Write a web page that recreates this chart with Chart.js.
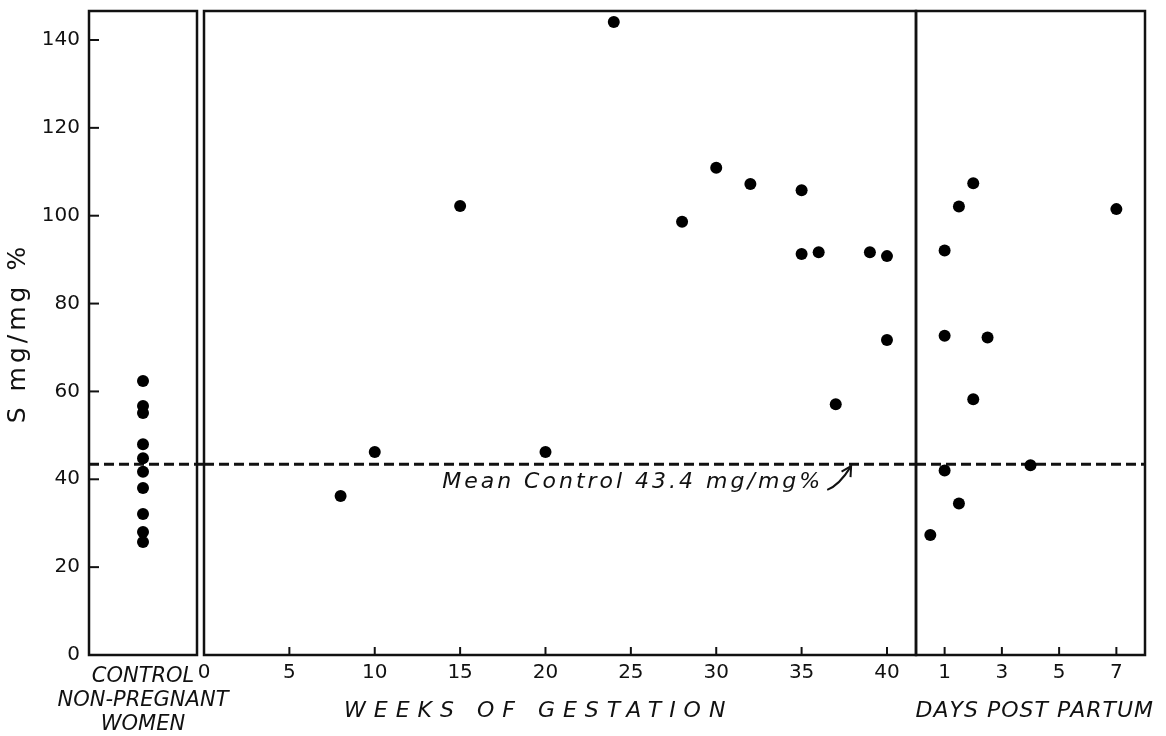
<!DOCTYPE html>
<html>
<head>
<meta charset="utf-8">
<script src="https://cdn.jsdelivr.net/npm/chart.js@4.4.1/dist/chart.umd.min.js"></script>
<style>
  html, body { margin: 0; padding: 0; background: #fff; }
  #wrap { position: relative; width: 1166px; height: 736px; overflow: hidden; }
  canvas { position: absolute; top: 0; }
</style>
</head>
<body>
<div id="wrap">
  <canvas id="control" width="260" height="736" style="left:0"></canvas>
  <canvas id="gestation" width="760" height="736" style="left:180px"></canvas>
  <canvas id="partum" width="266" height="736" style="left:900px"></canvas>
</div>
<script>
// values (S mg/mg %)
var controlLabel = ['CONTROL', 'NON-PREGNANT', 'WOMEN'];
var controlValues = [62.4, 56.7, 55.1, 48.0, 44.8, 41.7, 38.0, 32.1, 28.0, 25.7];

var gestationWeeks = [8, 10, 15, 20, 24, 28, 30, 32, 35, 35, 36, 37, 39, 40, 40];
var gestationValues = [36.2, 46.2, 102.2, 46.2, 144.1, 98.6, 110.9, 107.2, 105.8, 91.3, 91.7, 57.1, 91.7, 90.8, 71.7];

var partumDays = [0.5, 1, 1, 1, 1.5, 1.5, 2, 2, 2.5, 4, 7];
var partumValues = [27.3, 92.1, 72.7, 42.0, 102.1, 34.5, 107.4, 58.2, 72.3, 43.2, 101.5];

var meanControl = 43.4;
var yTicksStep = 20;
var weekTicksStep = 5;
var dayTicks = [1, 3, 5, 7];

var yTop = 146.6, weeksMax = 41.7, daysMax = 8;
var ink = '#111';
var axisBand = 81;

Chart.defaults.font.family = "'DejaVu Sans', 'Liberation Sans', sans-serif";
Chart.defaults.color = ink;

// chart.js pads the area for overflowing tick labels; the figure doesn't
function fixBand(size, key) {
  return function (s) {
    s[key] = size;
    s.paddingTop = s.paddingBottom = s.paddingLeft = s.paddingRight = 0;
  };
}

// frame, inward ticks, dashed mean line and hand lettering
var panel = {
  id: 'panel',
  beforeDatasetsDraw: function (chart, args, opts) {
    var ctx = chart.ctx, a = chart.chartArea;
    var yy = chart.scales.y.getPixelForValue(meanControl);
    ctx.save();
    ctx.strokeStyle = ink;
    ctx.lineWidth = 3;
    ctx.setLineDash([10, 5]);
    ctx.beginPath();
    ctx.moveTo(a.left, yy);
    ctx.lineTo(a.right + (opts.extend || 0), yy);
    ctx.stroke();
    ctx.restore();
  },
  afterDraw: function (chart, args, opts) {
    var ctx = chart.ctx, a = chart.chartArea;
    ctx.save();
    ctx.strokeStyle = ink;
    ctx.lineWidth = 2.5;
    ctx.strokeRect(a.left, a.top, a.right - a.left, a.bottom - a.top);

    ctx.lineWidth = 2;
    if (opts.xTick) {
      chart.scales.x.ticks.forEach(function (t) {
        var px = chart.scales.x.getPixelForValue(t.value);
        ctx.beginPath(); ctx.moveTo(px, a.bottom); ctx.lineTo(px, a.bottom - opts.xTick); ctx.stroke();
      });
    }
    if (opts.yTick) {
      chart.scales.y.ticks.forEach(function (t) {
        var py = chart.scales.y.getPixelForValue(t.value);
        ctx.beginPath(); ctx.moveTo(a.left, py); ctx.lineTo(a.left + opts.yTick, py); ctx.stroke();
      });
    }

    ctx.fillStyle = ink;
    ctx.textBaseline = 'middle';
    (opts.texts || []).forEach(function (t) {
      var p = t.pos(chart);
      ctx.save();
      ctx.font = t.font;
      ctx.letterSpacing = (t.spacing || 0) + 'px';
      ctx.textAlign = t.align || 'left';
      ctx.translate(p[0], p[1]);
      if (t.rotate) ctx.rotate(t.rotate);
      ctx.fillText(t.text, 0, 0);
      ctx.restore();
    });
    if (opts.arrow) {
      var s = opts.arrow(chart);
      ctx.lineWidth = 2;
      ctx.beginPath();
      ctx.moveTo(s[0][0], s[0][1]);
      ctx.quadraticCurveTo(s[1][0], s[1][1], s[2][0], s[2][1]);
      ctx.stroke();
      var ang = Math.atan2(s[2][1] - s[1][1], s[2][0] - s[1][0]);
      ctx.beginPath();
      ctx.moveTo(s[2][0] - 11 * Math.cos(ang - 0.5), s[2][1] - 11 * Math.sin(ang - 0.5));
      ctx.lineTo(s[2][0], s[2][1]);
      ctx.lineTo(s[2][0] - 11 * Math.cos(ang + 0.5), s[2][1] - 11 * Math.sin(ang + 0.5));
      ctx.stroke();
    }
    ctx.restore();
  }
};

var dots = { backgroundColor: '#000', borderWidth: 0, pointRadius: 6, pointHoverRadius: 6 };
var noGrid = { display: false, drawTicks: false };

function hiddenY() {
  return { display: false, min: 0, max: yTop };
}

var base = {
  responsive: false,
  devicePixelRatio: 1,
  animation: false,
  events: [],
  plugins: { legend: { display: false }, tooltip: { enabled: false } }
};

new Chart(document.getElementById('control'), {
  type: 'scatter',
  data: {
    labels: [controlLabel],
    datasets: [Object.assign({ data: controlValues.map(function (v) { return { x: 0, y: v }; }) }, dots)]
  },
  options: Object.assign({}, base, {
    layout: { padding: { top: 11, right: 63, left: 0, bottom: 0 } },
    plugins: Object.assign({}, base.plugins, {
      panel: {
        extend: 7,
        yTick: 10,
        texts: [{
          text: 'S mg/mg %', font: '25px "DejaVu Sans"', spacing: 4, align: 'center',
          rotate: -Math.PI / 2,
          pos: function (c) { return [18, (c.chartArea.top + c.chartArea.bottom) / 2]; }
        }]
      }
    }),
    scales: {
      x: {
        type: 'category', offset: true,
        grid: noGrid,
        border: { display: false },
        ticks: { padding: 10, maxRotation: 0, font: { size: 21, style: 'italic', lineHeight: 1.14 } },
        afterFit: fixBand(axisBand, 'height')
      },
      y: {
        min: 0, max: yTop,
        grid: noGrid,
        border: { display: false },
        ticks: { stepSize: yTicksStep, includeBounds: false, padding: 9, font: { size: 20 } },
        afterFit: fixBand(89, 'width')
      }
    }
  }),
  plugins: [panel]
});

new Chart(document.getElementById('gestation'), {
  type: 'scatter',
  data: {
    datasets: [Object.assign({ data: gestationWeeks.map(function (w, i) { return { x: w, y: gestationValues[i] }; }) }, dots)]
  },
  options: Object.assign({}, base, {
    layout: { padding: { top: 11, right: 24, left: 24, bottom: 0 } },
    plugins: Object.assign({}, base.plugins, {
      panel: {
        xTick: 8,
        texts: [{
          text: 'WEEKS OF GESTATION', font: 'italic 22px "DejaVu Sans"', spacing: 8,
          pos: function (c) { return [c.scales.x.getPixelForValue(8.2), c.chartArea.bottom + 56]; }
        }, {
          text: 'Mean Control 43.4 mg/mg%', font: 'italic 22px "DejaVu Sans"', spacing: 3,
          pos: function (c) { return [c.scales.x.getPixelForValue(13.95), c.scales.y.getPixelForValue(39.4)]; }
        }],
        arrow: function (c) {
          var x = c.scales.x, y = c.scales.y;
          return [[x.getPixelForValue(36.5), y.getPixelForValue(37.6)],
                  [x.getPixelForValue(37.2), y.getPixelForValue(38.6)],
                  [x.getPixelForValue(37.9), y.getPixelForValue(43.0)]];
        }
      }
    }),
    scales: {
      x: {
        type: 'linear', min: 0, max: weeksMax,
        grid: noGrid,
        border: { display: false },
        ticks: { stepSize: weekTicksStep, includeBounds: false, padding: 6, maxRotation: 0, autoSkip: false, font: { size: 20 } },
        afterFit: fixBand(axisBand, 'height')
      },
      y: hiddenY()
    }
  }),
  plugins: [panel]
});

new Chart(document.getElementById('partum'), {
  type: 'scatter',
  data: {
    datasets: [Object.assign({ data: partumDays.map(function (d, i) { return { x: d, y: partumValues[i] }; }) }, dots)]
  },
  options: Object.assign({}, base, {
    layout: { padding: { top: 11, right: 21, left: 16, bottom: 0 } },
    plugins: Object.assign({}, base.plugins, {
      panel: {
        xTick: 8,
        texts: [{
          text: 'DAYS POST PARTUM', font: 'italic 22px "DejaVu Sans"', spacing: 1, align: 'center',
          pos: function (c) { return [c.scales.x.getPixelForValue(4.15), c.chartArea.bottom + 56]; }
        }]
      }
    }),
    scales: {
      x: {
        type: 'linear', min: 0, max: daysMax,
        afterBuildTicks: function (s) { s.ticks = dayTicks.map(function (v) { return { value: v }; }); },
        grid: noGrid,
        border: { display: false },
        ticks: { padding: 6, maxRotation: 0, autoSkip: false, font: { size: 20 } },
        afterFit: fixBand(axisBand, 'height')
      },
      y: hiddenY()
    }
  }),
  plugins: [panel]
});
</script>
</body>
</html>
